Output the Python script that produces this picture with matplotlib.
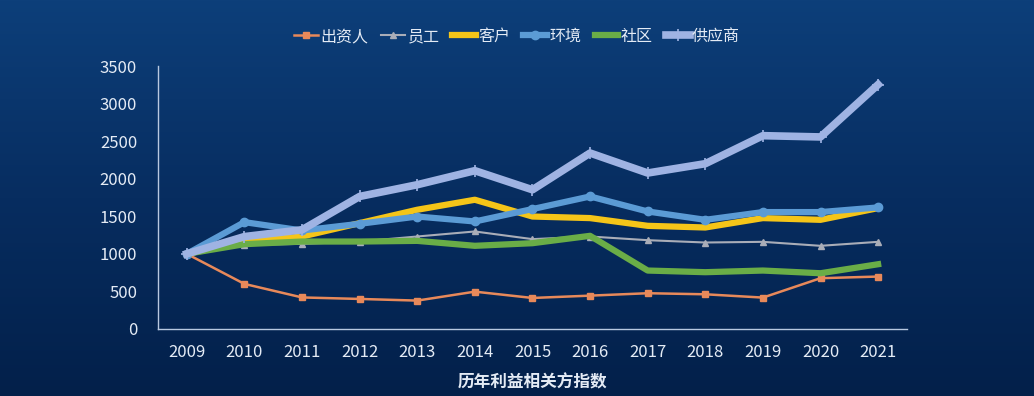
import matplotlib.pyplot as plt
import numpy as np
from matplotlib.colors import LinearSegmentedColormap

plt.rcParams['font.family'] = ['Noto Sans CJK SC', 'DejaVu Sans']

years = ["2009", "2010", "2011", "2012", "2013", "2014", "2015",
         "2016", "2017", "2018", "2019", "2020", "2021"]

investor = [1000, 600, 420, 400, 378, 497, 413, 444, 476, 462, 418, 676, 698]
staff = [1000, 1120, 1133, 1164, 1231, 1298, 1196, 1231, 1182, 1151, 1160, 1107, 1160]
customer = [1000, 1160, 1231, 1409, 1587, 1720, 1497, 1476, 1373, 1351, 1476, 1453, 1609]
environment = [1000, 1422, 1311, 1400, 1497, 1431, 1596, 1764, 1564, 1453, 1556, 1556, 1618]
community = [1000, 1129, 1164, 1164, 1173, 1107, 1142, 1240, 778, 756, 778, 742, 862]
supplier = [1000, 1230, 1320, 1764, 1920, 2107, 1853, 2342, 2076, 2200, 2573, 2556, 3253]

title = "历年利益相关方指数"

fig = plt.figure(figsize=(10.34, 3.96), dpi=100)

# background gradient
bg = fig.add_axes([0, 0, 1, 1])
grad = np.linspace(0, 1, 256).reshape(-1, 1)
cmap = LinearSegmentedColormap.from_list("bg", ["#0d3f7a", "#072d60", "#03204a"])
bg.imshow(grad, aspect='auto', cmap=cmap, extent=[0, 1, 0, 1])
bg.axis('off')

ax = fig.add_axes([0.1528, 0.1692, 0.7243, 0.6641])
ax.patch.set_alpha(0)

x = np.arange(len(years))
text_col = "#e4ebf5"

ax.plot(x, investor, color="#e8895a", lw=1.8, marker='s', ms=4.5, label="出资人")
ax.plot(x, staff, color="#a9adb8", lw=1.5, marker='^', ms=4, label="员工")
ax.plot(x, customer, color="#f5c518", lw=4.5, label="客户")
ax.plot(x, environment, color="#5b9bd5", lw=4.5, marker='o', ms=6, label="环境")
ax.plot(x, community, color="#6aad47", lw=4.5, label="社区")
ax.plot(x, supplier, color="#9fb3e3", lw=5.5, marker='+', ms=9, mew=1.2, label="供应商")

ax.set_xlim(-0.5, len(years) - 0.5)
ax.set_ylim(0, 3500)
ax.set_yticks(range(0, 3501, 500))
ax.set_xticks(x)
ax.set_xticklabels(years)

for side in ['top', 'right']:
    ax.spines[side].set_visible(False)
for side in ['left', 'bottom']:
    ax.spines[side].set_color("#b8c8e0")
    ax.spines[side].set_linewidth(1)

ax.tick_params(length=0, colors=text_col, labelsize=12)
ax.tick_params(axis='x', pad=11)
ax.tick_params(axis='y', pad=15)

ax.set_xlabel(title, color=text_col, fontsize=12, fontweight='bold', labelpad=9)

leg = fig.legend(loc='center', bbox_to_anchor=(0.5, 0.908), ncol=6, frameon=False,
                 fontsize=11.5, handlelength=1.5, handletextpad=0.15, columnspacing=0.8)
for t in leg.get_texts():
    t.set_color(text_col)

fig.savefig("out.png", dpi=100)
